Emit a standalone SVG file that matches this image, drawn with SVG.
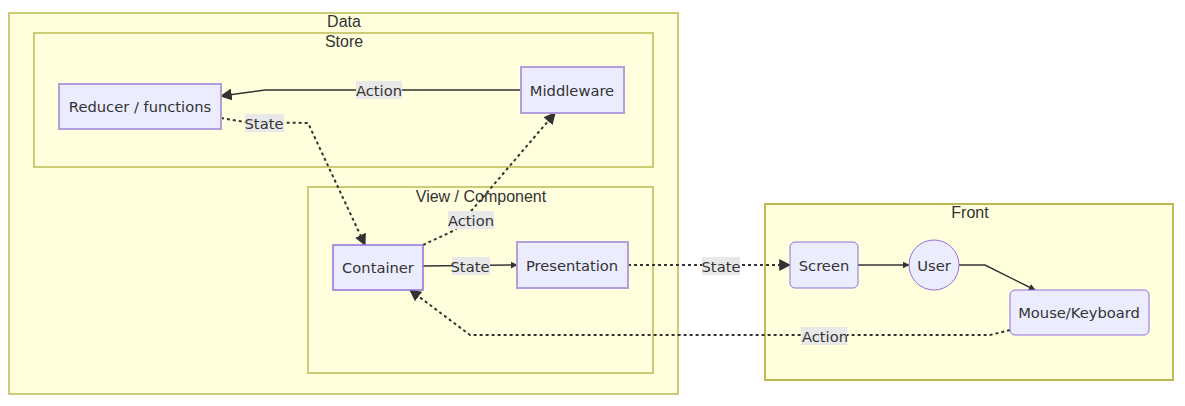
<svg xmlns="http://www.w3.org/2000/svg" width="1185" height="406" viewBox="0 0 1185 406">
<style>
.cluster{fill:#ffffde;stroke:#cccc77;stroke-width:2}
.ctitle{font-family:"Liberation Sans",Arial,sans-serif;font-size:16px;fill:#333;text-anchor:middle}
.node{fill:#ececff;stroke:#b39ddb;stroke-width:2}
.ntext{font-family:"DejaVu Sans",Verdana,sans-serif;font-size:14.7px;fill:#333;text-anchor:middle;dominant-baseline:central}
.edge{fill:none;stroke:#333;stroke-width:1.5}
.dot{stroke-dasharray:3 3;stroke-width:2}
.lbg{fill:#e8e8e8}
.ltext{font-family:"DejaVu Sans",Verdana,sans-serif;font-size:14.7px;fill:#333;text-anchor:middle;dominant-baseline:central}
</style>
<defs>
<marker id="arr" viewBox="0 0 10 10" refX="9" refY="5" markerWidth="7" markerHeight="7" markerUnits="userSpaceOnUse" orient="auto"><path d="M0,0 L10,5 L0,10 z" fill="#333"/></marker>
<marker id="arrL" viewBox="0 0 10 10" refX="9" refY="5" markerWidth="12" markerHeight="12" markerUnits="userSpaceOnUse" orient="auto"><path d="M0,0 L10,5 L0,10 z" fill="#333"/></marker>
</defs>
<g id="cluster-data"><rect class="cluster" x="9" y="13" width="669" height="381"/><text class="ctitle" x="344" y="27">Data</text></g>
<g id="cluster-store"><rect class="cluster" x="34" y="33" width="619" height="134"/><text class="ctitle" x="344" y="47">Store</text></g>
<g id="cluster-view"><rect class="cluster" x="308" y="187" width="345" height="186"/><text class="ctitle" x="481" y="202">View / Component</text></g>
<g id="cluster-front"><rect class="cluster" x="765" y="204" width="408" height="176" style="stroke:#bbbb55"/><text class="ctitle" x="970" y="218">Front</text></g>
<g id="connectors">
<path class="edge" d="M521,90 L265,90 L221,96" marker-end="url(#arrL)"/>
<rect class="lbg" x="356" y="81" width="46" height="18"/><text class="ltext" x="379" y="90">Action</text>
<path class="edge dot" d="M221,118 L245,122 L308,123 L365,245" marker-end="url(#arrL)"/>
<rect class="lbg" x="245" y="114" width="39" height="18"/><text class="ltext" x="264" y="123">State</text>
<path class="edge dot" d="M423,245 L455,230 L555,113" marker-end="url(#arrL)"/>
<rect class="lbg" x="448" y="211" width="46" height="18"/><text class="ltext" x="471" y="220">Action</text>
<path class="edge" d="M423,266 L517,265" marker-end="url(#arr)"/>
<rect class="lbg" x="452" y="257" width="38" height="18"/><text class="ltext" x="470" y="266">State</text>
<path class="edge dot" d="M628,265 L790,265" marker-end="url(#arrL)"/>
<rect class="lbg" x="702" y="257" width="38" height="18"/><text class="ltext" x="721" y="266">State</text>
<path class="edge" d="M858,265 L909,265" marker-end="url(#arr)"/>
<path class="edge" d="M959,265 L985,265 L1035,290" marker-end="url(#arr)"/>
<path class="edge dot" d="M1010,330 L990,335 L470,335 L410,290" marker-end="url(#arrL)"/>
<rect class="lbg" x="801" y="327" width="46" height="18"/><text class="ltext" x="825" y="336">Action</text>
</g>
<g id="node-reducer"><rect class="node" x="59" y="84" width="162" height="45"/><text class="ntext" x="140" y="106.5">Reducer / functions</text></g>
<g id="node-middleware"><rect class="node" x="521" y="67" width="103" height="46"/><text class="ntext" x="572" y="90">Middleware</text></g>
<g id="node-container"><rect class="node" x="333" y="245" width="90" height="45" style="stroke:#9370db;stroke-width:1.5"/><text class="ntext" x="378" y="267.5">Container</text></g>
<g id="node-presentation"><rect class="node" x="517" y="242" width="111" height="46"/><text class="ntext" x="572" y="265">Presentation</text></g>
<g id="node-screen"><rect class="node" x="790" y="242" width="68" height="46" rx="5" style="stroke:#9370db;stroke-width:1"/><text class="ntext" x="824" y="265">Screen</text></g>
<g id="node-user"><circle class="node" cx="934" cy="265" r="25" style="stroke:#9370db;stroke-width:1"/><text class="ntext" x="934" y="265">User</text></g>
<g id="node-mouse"><rect class="node" x="1010" y="290" width="139" height="45" rx="5" style="stroke:#9370db;stroke-width:1"/><text class="ntext" x="1079" y="312.5">Mouse/Keyboard</text></g>
</svg>
